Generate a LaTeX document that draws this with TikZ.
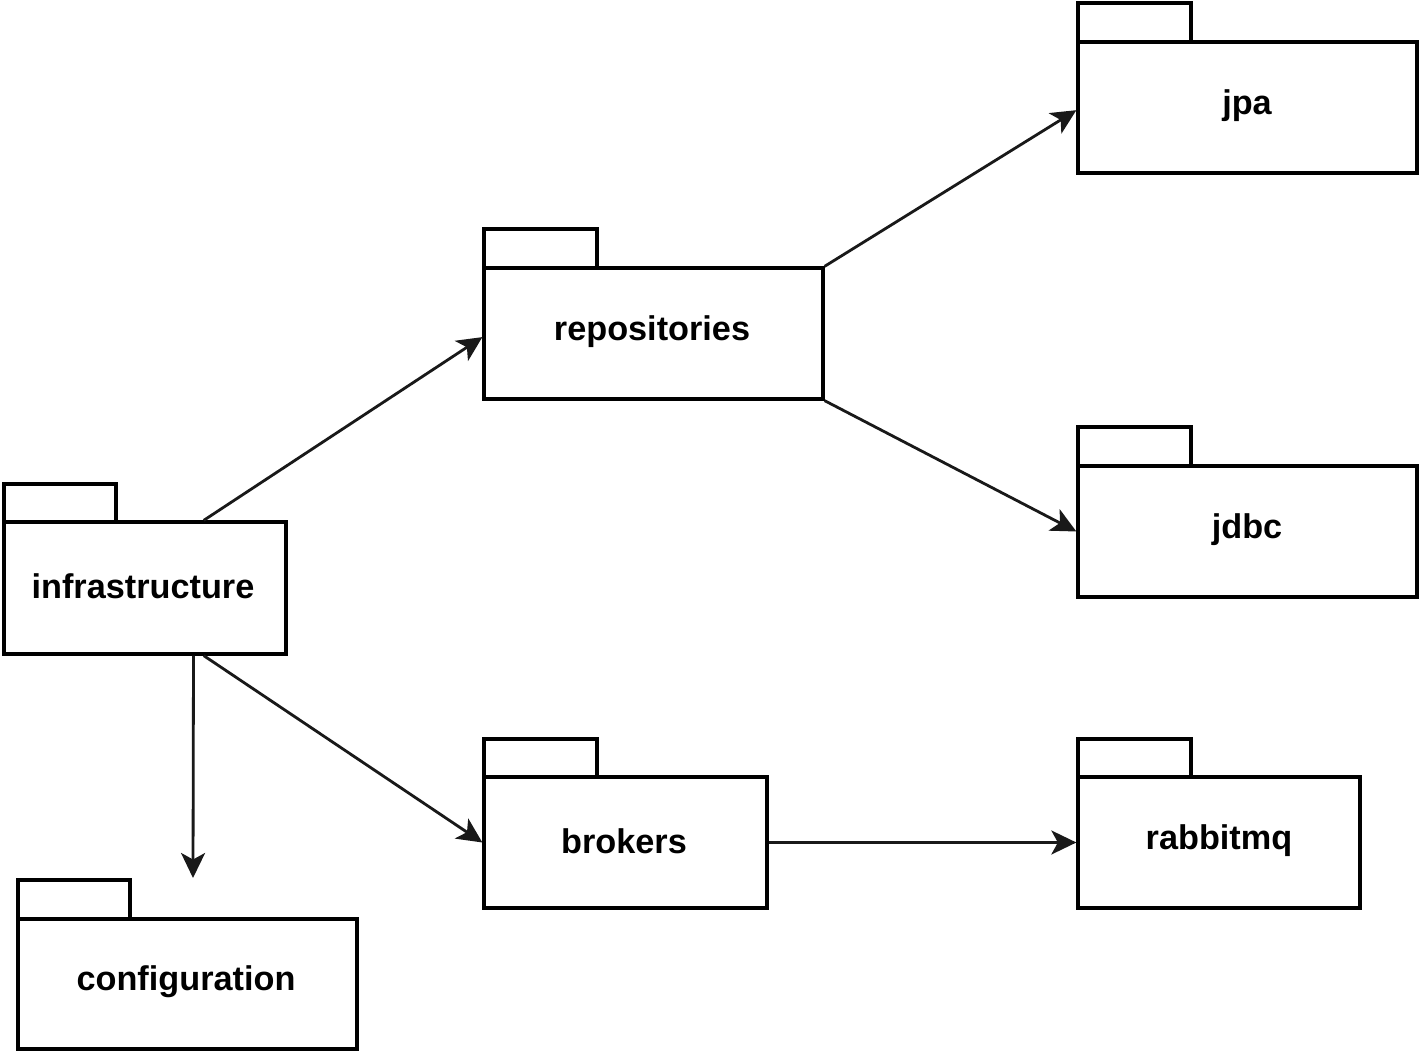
\documentclass[tikz,border=0pt]{standalone}
\usepackage{fontspec}
\setmainfont{Liberation Sans}
\usetikzlibrary{arrows.meta,calc}
\begin{document}
\begin{tikzpicture}[x=0.02cm,y=-0.02cm,
  pkgbody/.style={draw=black,line width=1.9pt,fill=white,inner sep=0pt},
  pkgtab/.style={draw=black,line width=1.9pt,fill=white},
  pkglabel/.style={font=\fontsize{19.5}{23}\selectfont\bfseries},
  dep/.style={draw=black!90,line width=1.6pt,
    -{Stealth[length=0.5cm,width=0.48cm,inset=0.13cm]}}]
  \useasboundingbox (0,0) rectangle (1421,1053);

  % package folders: tab first, then the body and its label
  \draw[pkgtab] (4,484) rectangle (116,522);
  \node[pkgbody,minimum width=5.64cm,minimum height=2.64cm] (infra) at (145,588) {};
  \node[pkglabel] (infralbl) at (143,586) {infrastructure};

  \draw[pkgtab] (484,229) rectangle (597,268);
  \node[pkgbody,minimum width=6.78cm,minimum height=2.62cm] (repo) at (653.5,333.5) {};
  \node[pkglabel] (repolbl) at (652,332) {repositories};

  \draw[pkgtab] (1078,3) rectangle (1191,42);
  \node[pkgbody,minimum width=6.78cm,minimum height=2.62cm] (jpa) at (1247.5,107.5) {};
  \node[pkglabel] (jpalbl) at (1247,106) {jpa};

  \draw[pkgtab] (1078,427) rectangle (1191,466);
  \node[pkgbody,minimum width=6.78cm,minimum height=2.62cm] (jdbc) at (1247.5,531.5) {};
  \node[pkglabel] (jdbclbl) at (1247,530) {jdbc};

  \draw[pkgtab] (484,739) rectangle (597,777);
  \node[pkgbody,minimum width=5.66cm,minimum height=2.62cm] (brokers) at (625.5,842.5) {};
  \node[pkglabel] (brokerslbl) at (624,841) {brokers};

  \draw[pkgtab] (1078,739) rectangle (1191,777);
  \node[pkgbody,minimum width=5.64cm,minimum height=2.62cm] (rabbit) at (1219,842.5) {};
  \node[pkglabel] (rabbitlbl) at (1219,841) {rabbitmq};

  \draw[pkgtab] (18,880) rectangle (130,919);
  \node[pkgbody,minimum width=6.78cm,minimum height=2.60cm] (config) at (187.5,984) {};
  \node[pkglabel] (configlbl) at (186,982) {configuration};

  % open end of the dependency that points at configuration
  \coordinate (cfgend) at (193,878);

  % dependencies
  \draw[dep] ($(infra.north west)!0.706!(infra.north east)$) -- ($(repo.north west)!0.527!(repo.south west)$);
  \draw[dep] (repo.north east) -- ($(jpa.north west)!0.52!(jpa.south west)$);
  \draw[dep] (repo.south east) -- (jdbc.west);
  \draw[dep] ($(infra.south west)!0.706!(infra.south east)$) -- (brokers.west);
  \draw[dep] ($(infra.south west)!0.670!(infra.south east)$) -- (cfgend);
  \draw[dep] (brokers.east) -- (rabbit.west);
\end{tikzpicture}
\end{document}
